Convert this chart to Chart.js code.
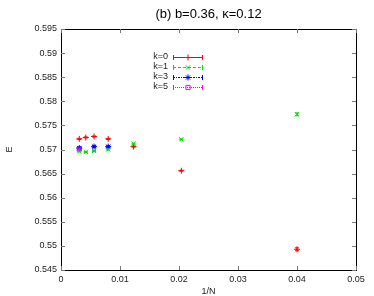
<!DOCTYPE html>
<html lang="en">
<head>
<meta charset="UTF-8">
<title>E vs 1/N</title>
<script src="https://cdn.jsdelivr.net/npm/chart.js"></script>
<style>
  html, body { margin: 0; padding: 0; background: #fff; }
  #box { width: 374px; height: 296px; }
</style>
</head>
<body>
<div id="box"><canvas id="chart"></canvas></div>
<script>
// data
const title = '(b) b=0.36, \u03ba=0.12';
const labels = ['k=0', 'k=1', 'k=3', 'k=5'];

const invN0 = [0.0031, 0.0042, 0.0056, 0.0080, 0.0123, 0.0204, 0.0400];
const E0    = [0.5722, 0.5725, 0.5727, 0.5722, 0.5706, 0.5656, 0.5493];
const err0  = [0.0001, 0.0001, 0.0001, 0.0001, 0.0001, 0.0001, 0.0003];

const invN1 = [0.0031, 0.0042, 0.0056, 0.0080, 0.0123, 0.0204, 0.0400];
const E1    = [0.5696, 0.5695, 0.5697, 0.5700, 0.5712, 0.5721, 0.5773];
const err1  = [0.0001, 0.0001, 0.0001, 0.0001, 0.0001, 0.0001, 0.0003];

const invN3 = [0.0031, 0.0056, 0.0080];
const E3    = [0.5703, 0.5706, 0.5706];
const err3  = [0.0002, 0.0002, 0.0002];

const invN5 = [0.0031];
const E5    = [0.5701];
const err5  = [0.0002];

const xTicks = [0, 0.01, 0.02, 0.03, 0.04, 0.05];
const yTicks = [0.545, 0.55, 0.555, 0.56, 0.565, 0.57, 0.575, 0.58, 0.585, 0.59, 0.595];

const FONT = 'Arial, "Liberation Sans", sans-serif';

function pts(xs, ys) { return xs.map((x, i) => ({ x: x, y: ys[i] })); }

const sets = [
  { xs: invN0, ys: E0, err: err0, color: '#ff0000', style: 'cross',    dash: [] },
  { xs: invN1, ys: E1, err: err1, color: '#00dd00', style: 'crossRot', dash: [3, 2] },
  { xs: invN3, ys: E3, err: err3, color: '#0000ff', style: 'star',     dash: [2, 1, 1, 1] },
  { xs: invN5, ys: E5, err: err5, color: '#ff00ff', style: 'rect',     dash: [1, 1] }
];

// gnuplot-ish frame, inward ticks, error bars, legend and texts
const decor = {
  id: 'decor',
  afterDatasetsDraw(chart) {
    const ctx = chart.ctx;
    const a = chart.chartArea;
    const xs = chart.scales.x, ys = chart.scales.y;
    ctx.save();

    // error bars
    sets.forEach(s => {
      ctx.strokeStyle = s.color;
      ctx.lineWidth = 1;
      s.xs.forEach((x, i) => {
        const px = xs.getPixelForValue(x);
        const top = ys.getPixelForValue(s.ys[i] + s.err[i]);
        const bot = ys.getPixelForValue(s.ys[i] - s.err[i]);
        ctx.beginPath();
        ctx.moveTo(px, top); ctx.lineTo(px, bot);
        ctx.moveTo(px - 2, top); ctx.lineTo(px + 2, top);
        ctx.moveTo(px - 2, bot); ctx.lineTo(px + 2, bot);
        ctx.stroke();
      });
    });

    // frame
    ctx.strokeStyle = '#000';
    ctx.lineWidth = 1;
    ctx.strokeRect(Math.round(a.left) + 0.5, Math.round(a.top) + 0.5,
                   Math.round(a.right - a.left), Math.round(a.bottom - a.top));

    // inward ticks, mirrored
    ctx.strokeStyle = '#777';
    ctx.beginPath();
    xTicks.forEach(v => {
      const px = Math.round(xs.getPixelForValue(v)) + 0.5;
      ctx.moveTo(px, a.bottom); ctx.lineTo(px, a.bottom - 4);
      ctx.moveTo(px, a.top); ctx.lineTo(px, a.top + 4);
    });
    yTicks.forEach(v => {
      const py = Math.round(ys.getPixelForValue(v)) + 0.5;
      ctx.moveTo(a.left, py); ctx.lineTo(a.left + 4, py);
      ctx.moveTo(a.right, py); ctx.lineTo(a.right - 4, py);
    });
    ctx.stroke();

    // tick labels
    ctx.fillStyle = '#222';
    ctx.font = '9px ' + FONT;
    ctx.textAlign = 'right';
    ctx.textBaseline = 'middle';
    yTicks.forEach(v => {
      ctx.fillText(String(+v.toFixed(3)), a.left - 4, ys.getPixelForValue(v));
    });
    ctx.textAlign = 'center';
    ctx.textBaseline = 'top';
    xTicks.forEach(v => {
      ctx.fillText(String(+v.toFixed(2)), xs.getPixelForValue(v), a.bottom + 5);
    });

    // axis titles
    ctx.fillText('1/N', (a.left + a.right) / 2, a.bottom + 17);
    ctx.textBaseline = 'middle';
    ctx.save();
    ctx.translate(10, (a.top + a.bottom) / 2);
    ctx.rotate(-Math.PI / 2);
    ctx.fillText('E', 0, 0);
    ctx.restore();

    // title
    ctx.font = '13px ' + FONT;
    ctx.fillStyle = '#000';
    ctx.fillText(title, (a.left + a.right) / 2, 14);

    // legend
    ctx.font = '9px ' + FONT;
    labels.forEach((lab, i) => {
      const s = sets[i];
      const y = 57 + i * 10;
      ctx.fillStyle = '#222';
      ctx.textAlign = 'right';
      ctx.fillText(lab, 168, y);
      ctx.strokeStyle = s.color;
      ctx.setLineDash(s.dash);
      ctx.beginPath();
      ctx.moveTo(173, y + 0.5); ctx.lineTo(203, y + 0.5);
      ctx.stroke();
      ctx.setLineDash([]);
      ctx.beginPath();
      ctx.moveTo(173.5, y - 2); ctx.lineTo(173.5, y + 3);
      ctx.moveTo(202.5, y - 2); ctx.lineTo(202.5, y + 3);
      ctx.stroke();
      ctx.fillStyle = 'rgba(0,0,0,0)';
      Chart.helpers.drawPoint(ctx, {
        pointStyle: s.style, radius: 3, rotation: 0, borderWidth: 1
      }, 188, y + 0.5);
    });
    ctx.restore();
  }
};

new Chart(document.getElementById('chart'), {
  type: 'scatter',
  data: {
    datasets: sets.map((s, i) => ({
      label: labels[i],
      data: pts(s.xs, s.ys),
      pointStyle: s.style,
      pointRadius: 3,
      pointBorderWidth: 1,
      borderColor: s.color,
      backgroundColor: 'rgba(0,0,0,0)',
      showLine: false
    }))
  },
  options: {
    responsive: true,
    maintainAspectRatio: false,
    animation: false,
    layout: { padding: { top: 29, right: 18, bottom: 0, left: 0 } },
    plugins: { legend: { display: false }, tooltip: { enabled: false } },
    scales: {
      x: {
        type: 'linear', min: 0, max: 0.05,
        grid: { display: false }, border: { display: false },
        ticks: { display: false },
        afterFit(scale) { scale.height = 26; }
      },
      y: {
        type: 'linear', min: 0.545, max: 0.595,
        grid: { display: false }, border: { display: false },
        ticks: { display: false },
        afterFit(scale) { scale.width = 61; }
      }
    }
  },
  plugins: [decor]
});
</script>
</body>
</html>
